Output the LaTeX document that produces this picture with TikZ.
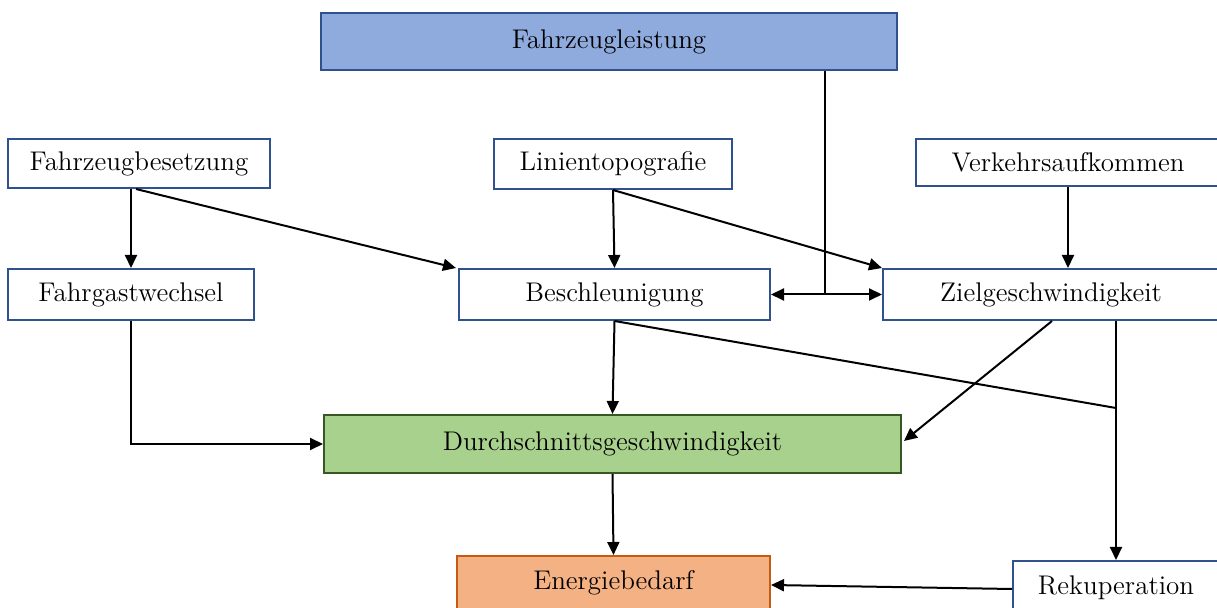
\documentclass[tikz,border=0pt]{standalone}
\usetikzlibrary{arrows.meta,calc}
\definecolor{bblue}{RGB}{47,82,143}
\definecolor{fblue}{RGB}{143,170,220}
\definecolor{bgreen}{RGB}{56,87,35}
\definecolor{fgreen}{RGB}{169,209,142}
\definecolor{borange}{RGB}{197,90,17}
\definecolor{forange}{RGB}{244,177,131}
\begin{document}
\begin{tikzpicture}[x=0.5pt,y=-0.5pt,
  box/.style={draw=bblue,line width=1pt,fill=white,rectangle,inner sep=0pt,
    font=\fontsize{13.5}{16}\selectfont},
  arr/.style={line width=1pt,-{Triangle[length=6.5pt,width=6pt]}},
  ln/.style={line width=1pt}]
\useasboundingbox (0,0) rectangle (1217,608);
\begin{scope}
\clip (0,0) rectangle (1217,608);
\node[box,fill=fblue,minimum width=288pt,minimum height=28.5pt] (fl) at (609,41.5) {Fahrzeugleistung};
\node[box,minimum width=131pt,minimum height=24.5pt] (fb) at (139,163.5) {Fahrzeugbesetzung};
\node[box,minimum width=119pt,minimum height=25pt] (lt) at (613,164) {Linientopografie};
\node[box,minimum width=152pt,minimum height=23.5pt] (va) at (1068,162.5) {Verkehrsaufkommen};
\node[box,minimum width=123pt,minimum height=25.5pt] (fw) at (131,294.5) {Fahrgastwechsel};
\node[box,minimum width=155.5pt,minimum height=25.5pt] (be) at (614.5,294.5) {Beschleunigung};
\node[box,minimum width=168pt,minimum height=25.5pt] (zg) at (1051,294.5) {Zielgeschwindigkeit};
\node[box,draw=bgreen,fill=fgreen,minimum width=288.5pt,minimum height=29pt] (dg) at (612.5,444) {Durchschnittsgeschwindigkeit};
\node[box,draw=borange,fill=forange,minimum width=156.5pt,minimum height=27pt] (eb) at (613.5,583) {Energiebedarf};
\node[box,minimum width=103pt,minimum height=27pt] (rk) at (1116,588) {Rekuperation};

\coordinate (j) at (825,294.5);
\coordinate (k) at (1116,408);

\draw[arr] ([xshift=-4pt]fb.south) -- (fw.north);
\draw[arr] ([xshift=-1.5pt]fb.south) -- ([xshift=-1pt]be.north west);
\draw[arr] (lt.south) -- (be.north);
\draw[arr] (lt.south) -- (zg.north west);
\draw[ln] (fl.south -| j) -- (j);
\draw[arr] (j) -- (be.east);
\draw[arr] (j) -- (zg.west);
\draw[arr] (va.south) -- (zg.north -| va.south);
\draw[arr] (fw.south) |- (dg.west);
\draw[arr] (be.south) -- (dg.north);
\draw[ln] (be.south) -- (k);
\draw[arr] ([xshift=0.5pt]zg.south) -- ([xshift=1pt,yshift=1.5pt]dg.east);
\draw[arr] (zg.south -| k) -- (rk.north);
\draw[arr] (dg.south) -- (eb.north);
\draw[arr] ([yshift=-0.5pt]rk.west) -- ([yshift=-1pt]eb.east);
\end{scope}
\end{tikzpicture}
\end{document}
